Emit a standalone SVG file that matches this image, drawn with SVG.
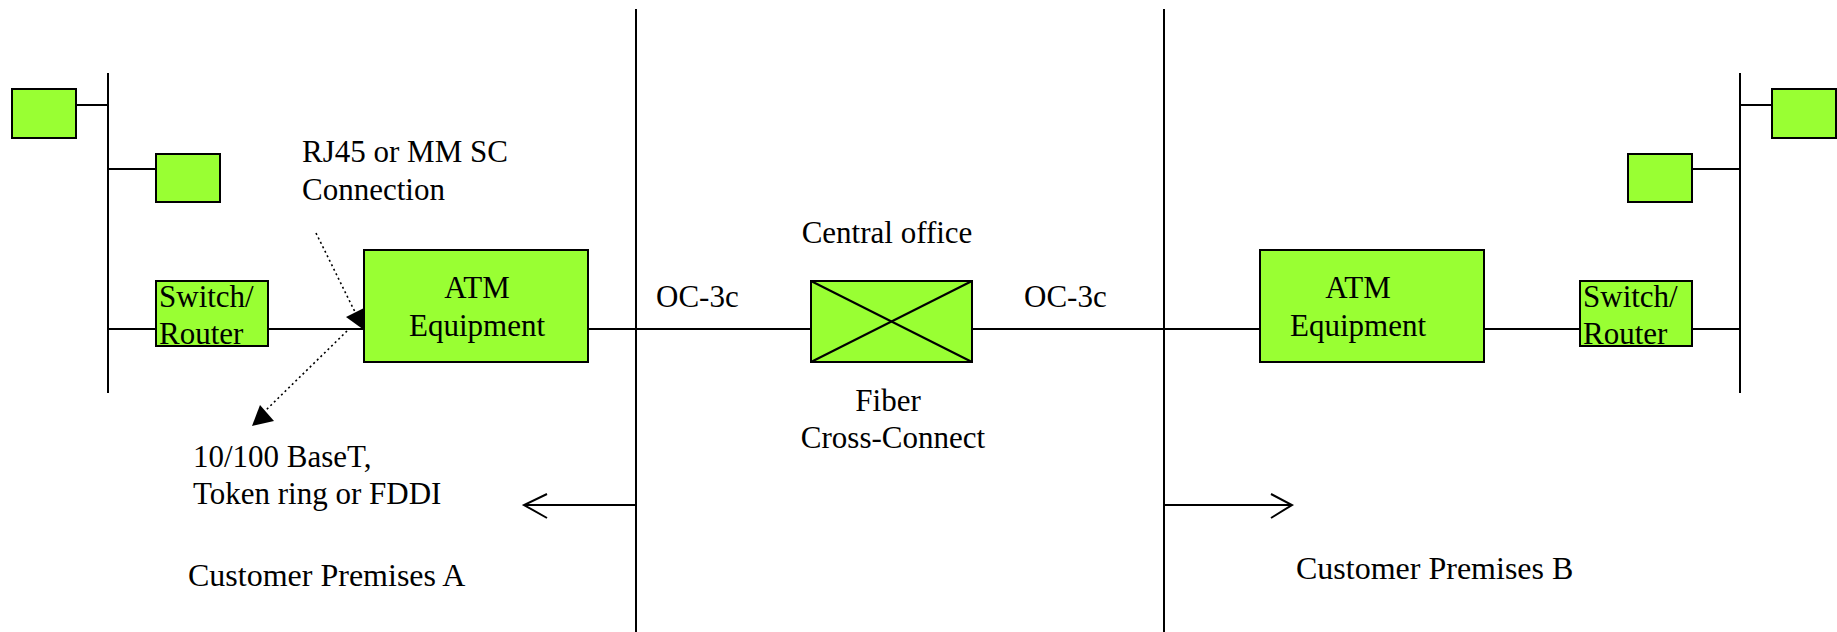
<svg xmlns="http://www.w3.org/2000/svg" width="1837" height="632" viewBox="0 0 1837 632">
<style>
.box{fill:#99FF33;stroke:#000;stroke-width:2}
.ln{stroke:#000;stroke-width:2;fill:none}
.dot{stroke:#000;stroke-width:1.6;fill:none;stroke-dasharray:2 3}
text{font-family:"Liberation Serif","Times New Roman",serif;font-size:31px;fill:#000}
.mid{text-anchor:middle}
</style>
<rect width="1837" height="632" fill="#fff"/>
<g id="connectors">
<line class="ln" x1="636" y1="9" x2="636" y2="632"/>
<line class="ln" x1="1164" y1="9" x2="1164" y2="632"/>
<line class="ln" x1="108" y1="73" x2="108" y2="393"/>
<line class="ln" x1="1740" y1="73" x2="1740" y2="393"/>
<line class="ln" x1="76" y1="105" x2="108" y2="105"/>
<line class="ln" x1="108" y1="169" x2="156" y2="169"/>
<line class="ln" x1="108" y1="329" x2="156" y2="329"/>
<line class="ln" x1="268" y1="329" x2="364" y2="329"/>
<line class="ln" x1="588" y1="329" x2="811" y2="329"/>
<line class="ln" x1="972" y1="329" x2="1260" y2="329"/>
<line class="ln" x1="1484" y1="329" x2="1580" y2="329"/>
<line class="ln" x1="1692" y1="329" x2="1740" y2="329"/>
<line class="ln" x1="1692" y1="169" x2="1740" y2="169"/>
<line class="ln" x1="1740" y1="105" x2="1772" y2="105"/>
<line class="ln" x1="636" y1="505" x2="524" y2="505"/>
<polyline class="ln" points="547,494 524,505 547,518"/>
<line class="ln" x1="1164" y1="505" x2="1292" y2="505"/>
<polyline class="ln" points="1271,494 1292,505 1271,518"/>
<line class="dot" x1="316" y1="233" x2="355" y2="312"/>
<polygon points="346,317 364,308 364,330" fill="#000"/>
<line class="dot" x1="347" y1="331" x2="264" y2="412"/>
<polygon points="252,426 260,405 274,421" fill="#000"/>
</g>
<g id="host-a1"><rect class="box" x="12" y="89" width="64" height="49"/></g>
<g id="host-a2"><rect class="box" x="156" y="154" width="64" height="48"/></g>
<g id="switch-a"><rect class="box" x="156" y="281" width="112" height="65"/>
<text x="159" y="307">Switch/</text><text x="159" y="344">Router</text></g>
<g id="atm-a"><rect class="box" x="364" y="250" width="224" height="112"/>
<text class="mid" x="477" y="298">ATM</text><text class="mid" x="477" y="336">Equipment</text></g>
<g id="fiber"><rect class="box" x="811" y="281" width="161" height="81"/>
<line class="ln" x1="811" y1="281" x2="972" y2="362"/><line class="ln" x1="811" y1="362" x2="972" y2="281"/></g>
<g id="atm-b"><rect class="box" x="1260" y="250" width="224" height="112"/>
<text class="mid" x="1358" y="298">ATM</text><text class="mid" x="1358" y="336">Equipment</text></g>
<g id="switch-b"><rect class="box" x="1580" y="281" width="112" height="65"/>
<text x="1583" y="307">Switch/</text><text x="1583" y="344">Router</text></g>
<g id="host-b2"><rect class="box" x="1628" y="154" width="64" height="48"/></g>
<g id="host-b1"><rect class="box" x="1772" y="89" width="64" height="49"/></g>
<g id="labels">
<text x="302" y="162">RJ45 or MM SC</text>
<text x="302" y="200">Connection</text>
<text class="mid" x="887" y="243">Central office</text>
<text x="656" y="307">OC-3c</text>
<text x="1024" y="307">OC-3c</text>
<text class="mid" x="888" y="411">Fiber</text>
<text class="mid" x="893" y="448">Cross-Connect</text>
<text x="193" y="467">10/100 BaseT,</text>
<text x="193" y="504">Token ring or FDDI</text>
<text x="188" y="586" style="font-size:32px">Customer Premises A</text>
<text x="1296" y="579" style="font-size:32px">Customer Premises B</text>
</g>
</svg>
